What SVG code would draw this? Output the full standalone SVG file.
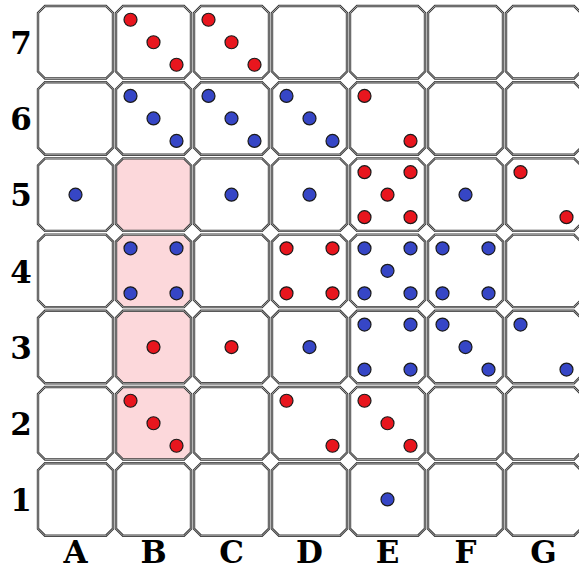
<svg xmlns="http://www.w3.org/2000/svg" xmlns:xlink="http://www.w3.org/1999/xlink" width="579" height="571" viewBox="0 0 579 571">
<style>
.lbl{font-family:"DejaVu Serif","Liberation Serif",serif;font-weight:bold;font-size:31px;fill:#000;text-anchor:middle}
.r{fill:#e8161e;stroke:#1a1a1a;stroke-width:1.2}
.b{fill:#3646c6;stroke:#1a1a1a;stroke-width:1.2}
.o{fill:#fff;stroke:#3a3a3a;stroke-width:2.4}
.p{fill:#fcd8db;stroke:#3a3a3a;stroke-width:2.4}
.in{fill:none;stroke:#cfcfcf;stroke-width:0.7}
</style>
<defs>
<path id="cs" d="M7,0H68L75,7V65.5L68,72.5H7L0,65.5V7Z"/>
<g id="cw"><use xlink:href="#cs" class="o"/><use xlink:href="#cs" class="in"/></g>
<g id="cp"><use xlink:href="#cs" class="p"/><use xlink:href="#cs" class="in"/></g>
</defs>
<rect width="579" height="571" fill="#fff"/>
<g id="labels">
<text class="lbl" x="21" y="54">7</text>
<text class="lbl" x="21" y="130">6</text>
<text class="lbl" x="21" y="206">5</text>
<text class="lbl" x="21" y="283">4</text>
<text class="lbl" x="21" y="359">3</text>
<text class="lbl" x="21" y="435">2</text>
<text class="lbl" x="21" y="511">1</text>
<text class="lbl" x="75.5" y="563">A</text>
<text class="lbl" x="153.5" y="563">B</text>
<text class="lbl" x="231.5" y="563">C</text>
<text class="lbl" x="309.5" y="563">D</text>
<text class="lbl" x="387.5" y="563">E</text>
<text class="lbl" x="465.5" y="563">F</text>
<text class="lbl" x="543.5" y="563">G</text>
</g>
<!-- row 7 -->
<g id="A7" transform="translate(38,6)"><use xlink:href="#cw"/></g>
<g id="B7" transform="translate(116,6)"><use xlink:href="#cw"/><circle class="r" cx="14.5" cy="13.75" r="6.5"/><circle class="r" cx="37.5" cy="36.25" r="6.5"/><circle class="r" cx="60.5" cy="58.75" r="6.5"/></g>
<g id="C7" transform="translate(194,6)"><use xlink:href="#cw"/><circle class="r" cx="14.5" cy="13.75" r="6.5"/><circle class="r" cx="37.5" cy="36.25" r="6.5"/><circle class="r" cx="60.5" cy="58.75" r="6.5"/></g>
<g id="D7" transform="translate(272,6)"><use xlink:href="#cw"/></g>
<g id="E7" transform="translate(350,6)"><use xlink:href="#cw"/></g>
<g id="F7" transform="translate(428,6)"><use xlink:href="#cw"/></g>
<g id="G7" transform="translate(506,6)"><use xlink:href="#cw"/></g>
<!-- row 6 -->
<g id="A6" transform="translate(38,82.2)"><use xlink:href="#cw"/></g>
<g id="B6" transform="translate(116,82.2)"><use xlink:href="#cw"/><circle class="b" cx="14.5" cy="13.75" r="6.5"/><circle class="b" cx="37.5" cy="36.25" r="6.5"/><circle class="b" cx="60.5" cy="58.75" r="6.5"/></g>
<g id="C6" transform="translate(194,82.2)"><use xlink:href="#cw"/><circle class="b" cx="14.5" cy="13.75" r="6.5"/><circle class="b" cx="37.5" cy="36.25" r="6.5"/><circle class="b" cx="60.5" cy="58.75" r="6.5"/></g>
<g id="D6" transform="translate(272,82.2)"><use xlink:href="#cw"/><circle class="b" cx="14.5" cy="13.75" r="6.5"/><circle class="b" cx="37.5" cy="36.25" r="6.5"/><circle class="b" cx="60.5" cy="58.75" r="6.5"/></g>
<g id="E6" transform="translate(350,82.2)"><use xlink:href="#cw"/><circle class="r" cx="14.5" cy="13.75" r="6.5"/><circle class="r" cx="60.5" cy="58.75" r="6.5"/></g>
<g id="F6" transform="translate(428,82.2)"><use xlink:href="#cw"/></g>
<g id="G6" transform="translate(506,82.2)"><use xlink:href="#cw"/></g>
<!-- row 5 -->
<g id="A5" transform="translate(38,158.4)"><use xlink:href="#cw"/><circle class="b" cx="37.5" cy="36.25" r="6.5"/></g>
<g id="B5" transform="translate(116,158.4)"><use xlink:href="#cp"/></g>
<g id="C5" transform="translate(194,158.4)"><use xlink:href="#cw"/><circle class="b" cx="37.5" cy="36.25" r="6.5"/></g>
<g id="D5" transform="translate(272,158.4)"><use xlink:href="#cw"/><circle class="b" cx="37.5" cy="36.25" r="6.5"/></g>
<g id="E5" transform="translate(350,158.4)"><use xlink:href="#cw"/><circle class="r" cx="14.5" cy="13.75" r="6.5"/><circle class="r" cx="60.5" cy="13.75" r="6.5"/><circle class="r" cx="37.5" cy="36.25" r="6.5"/><circle class="r" cx="14.5" cy="58.75" r="6.5"/><circle class="r" cx="60.5" cy="58.75" r="6.5"/></g>
<g id="F5" transform="translate(428,158.4)"><use xlink:href="#cw"/><circle class="b" cx="37.5" cy="36.25" r="6.5"/></g>
<g id="G5" transform="translate(506,158.4)"><use xlink:href="#cw"/><circle class="r" cx="14.5" cy="13.75" r="6.5"/><circle class="r" cx="60.5" cy="58.75" r="6.5"/></g>
<!-- row 4 -->
<g id="A4" transform="translate(38,234.6)"><use xlink:href="#cw"/></g>
<g id="B4" transform="translate(116,234.6)"><use xlink:href="#cp"/><circle class="b" cx="14.5" cy="13.75" r="6.5"/><circle class="b" cx="60.5" cy="13.75" r="6.5"/><circle class="b" cx="14.5" cy="58.75" r="6.5"/><circle class="b" cx="60.5" cy="58.75" r="6.5"/></g>
<g id="C4" transform="translate(194,234.6)"><use xlink:href="#cw"/></g>
<g id="D4" transform="translate(272,234.6)"><use xlink:href="#cw"/><circle class="r" cx="14.5" cy="13.75" r="6.5"/><circle class="r" cx="60.5" cy="13.75" r="6.5"/><circle class="r" cx="14.5" cy="58.75" r="6.5"/><circle class="r" cx="60.5" cy="58.75" r="6.5"/></g>
<g id="E4" transform="translate(350,234.6)"><use xlink:href="#cw"/><circle class="b" cx="14.5" cy="13.75" r="6.5"/><circle class="b" cx="60.5" cy="13.75" r="6.5"/><circle class="b" cx="37.5" cy="36.25" r="6.5"/><circle class="b" cx="14.5" cy="58.75" r="6.5"/><circle class="b" cx="60.5" cy="58.75" r="6.5"/></g>
<g id="F4" transform="translate(428,234.6)"><use xlink:href="#cw"/><circle class="b" cx="14.5" cy="13.75" r="6.5"/><circle class="b" cx="60.5" cy="13.75" r="6.5"/><circle class="b" cx="14.5" cy="58.75" r="6.5"/><circle class="b" cx="60.5" cy="58.75" r="6.5"/></g>
<g id="G4" transform="translate(506,234.6)"><use xlink:href="#cw"/></g>
<!-- row 3 -->
<g id="A3" transform="translate(38,310.8)"><use xlink:href="#cw"/></g>
<g id="B3" transform="translate(116,310.8)"><use xlink:href="#cp"/><circle class="r" cx="37.5" cy="36.25" r="6.5"/></g>
<g id="C3" transform="translate(194,310.8)"><use xlink:href="#cw"/><circle class="r" cx="37.5" cy="36.25" r="6.5"/></g>
<g id="D3" transform="translate(272,310.8)"><use xlink:href="#cw"/><circle class="b" cx="37.5" cy="36.25" r="6.5"/></g>
<g id="E3" transform="translate(350,310.8)"><use xlink:href="#cw"/><circle class="b" cx="14.5" cy="13.75" r="6.5"/><circle class="b" cx="60.5" cy="13.75" r="6.5"/><circle class="b" cx="14.5" cy="58.75" r="6.5"/><circle class="b" cx="60.5" cy="58.75" r="6.5"/></g>
<g id="F3" transform="translate(428,310.8)"><use xlink:href="#cw"/><circle class="b" cx="14.5" cy="13.75" r="6.5"/><circle class="b" cx="37.5" cy="36.25" r="6.5"/><circle class="b" cx="60.5" cy="58.75" r="6.5"/></g>
<g id="G3" transform="translate(506,310.8)"><use xlink:href="#cw"/><circle class="b" cx="14.5" cy="13.75" r="6.5"/><circle class="b" cx="60.5" cy="58.75" r="6.5"/></g>
<!-- row 2 -->
<g id="A2" transform="translate(38,387)"><use xlink:href="#cw"/></g>
<g id="B2" transform="translate(116,387)"><use xlink:href="#cp"/><circle class="r" cx="14.5" cy="13.75" r="6.5"/><circle class="r" cx="37.5" cy="36.25" r="6.5"/><circle class="r" cx="60.5" cy="58.75" r="6.5"/></g>
<g id="C2" transform="translate(194,387)"><use xlink:href="#cw"/></g>
<g id="D2" transform="translate(272,387)"><use xlink:href="#cw"/><circle class="r" cx="14.5" cy="13.75" r="6.5"/><circle class="r" cx="60.5" cy="58.75" r="6.5"/></g>
<g id="E2" transform="translate(350,387)"><use xlink:href="#cw"/><circle class="r" cx="14.5" cy="13.75" r="6.5"/><circle class="r" cx="37.5" cy="36.25" r="6.5"/><circle class="r" cx="60.5" cy="58.75" r="6.5"/></g>
<g id="F2" transform="translate(428,387)"><use xlink:href="#cw"/></g>
<g id="G2" transform="translate(506,387)"><use xlink:href="#cw"/></g>
<!-- row 1 -->
<g id="A1" transform="translate(38,463.2)"><use xlink:href="#cw"/></g>
<g id="B1" transform="translate(116,463.2)"><use xlink:href="#cw"/></g>
<g id="C1" transform="translate(194,463.2)"><use xlink:href="#cw"/></g>
<g id="D1" transform="translate(272,463.2)"><use xlink:href="#cw"/></g>
<g id="E1" transform="translate(350,463.2)"><use xlink:href="#cw"/><circle class="b" cx="37.5" cy="36.25" r="6.5"/></g>
<g id="F1" transform="translate(428,463.2)"><use xlink:href="#cw"/></g>
<g id="G1" transform="translate(506,463.2)"><use xlink:href="#cw"/></g>
<g id="connectors"/>
</svg>
